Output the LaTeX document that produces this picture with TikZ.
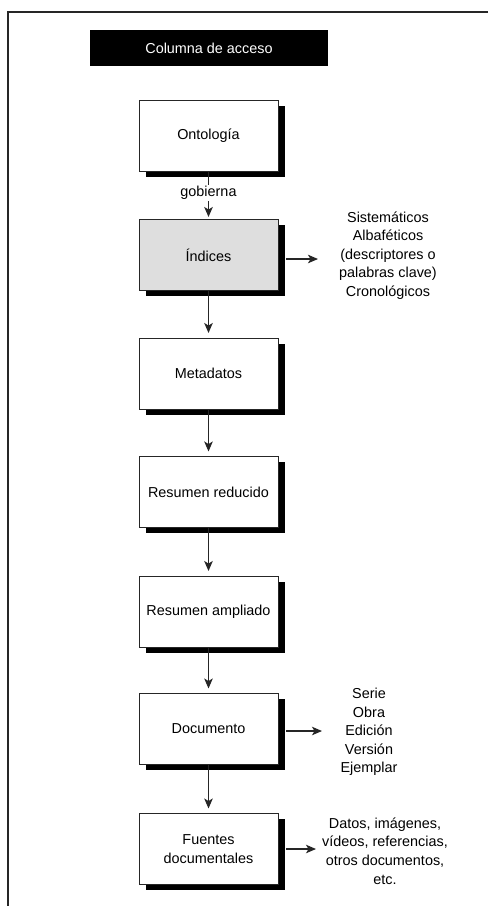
\documentclass[tikz,border=0pt]{standalone}
\usepackage{fontspec}
\setmainfont{Liberation Sans}
\usetikzlibrary{arrows.meta,shadows}

\tikzset{
  every node/.style={font=\fontsize{14.4}{18.6}\selectfont, text=black},
  stepbox/.style={draw=black!85, line width=1pt, fill=white,
    minimum width=139pt, minimum height=71pt, align=center, inner sep=2pt,
    drop shadow={shadow xshift=6.5pt, shadow yshift=-5.5pt, opacity=1, fill=black}},
  arr/.style={draw=black!85, line width=1.3pt,
    -{Stealth[length=10pt,width=8.5pt,inset=2.5pt]}},
  listtext/.style={align=center, inner sep=0pt},
  frameline/.style={draw=black!85, line width=1.4pt}
}

\begin{document}
\begin{tikzpicture}[x=1pt, y=-1pt]
  \useasboundingbox (0,0) rectangle (488,906);

  % open frame: top and left edges only
  \draw[frameline] (488,12) -- (8,12) -- (8,906);

  % heading bar
  \node[fill=black, minimum width=238pt, minimum height=36pt, inner sep=0pt,
        text=white] (head) at (209,48) {Columna de acceso};

  % column of stages
  \node[stepbox] (ont) at (208.5,136)   {Ontología};
  \node[stepbox, fill=black!13] (ind) at (208.5,255) {Índices};
  \node[stepbox] (meta) at (208.5,373.5) {Metadatos};
  \node[stepbox] (rred) at (208.5,492)  {Resumen reducido};
  \node[stepbox] (ramp) at (208.5,611.5) {Resumen ampliado};
  \node[stepbox] (doc) at (208.5,729)   {Documento};
  \node[stepbox] (fue) at (208.5,849)   {Fuentes\\documentales};

  % side lists
  \node[listtext] (lind) at (388,255.5)
    {Sistemáticos\\Albaféticos\\(descriptores o\\palabras clave)\\Cronológicos};
  \node[listtext] (ldoc) at (369,732)
    {Serie\\Obra\\Edición\\Versión\\Ejemplar};
  \node[listtext] (lfue) at (385,851)
    {Datos, imágenes,\\vídeos, referencias,\\otros documentos,\\etc.};

  % vertical flow
  \draw[arr, shorten >=2pt] (ont) -- node[fill=white, inner sep=1.5pt, pos=0.45] {gobierna} (ind);
  \draw[arr, shorten >=4.5pt] (ind) -- (meta);
  \draw[arr, shorten >=4.5pt] (meta) -- (rred);
  \draw[arr, shorten >=4.5pt] (rred) -- (ramp);
  \draw[arr, shorten >=4.5pt] (ramp) -- (doc);
  \draw[arr, shorten >=4.5pt] (doc) -- (fue);

  % arrows to the side lists
  \coordinate (eind) at (318,259);
  \coordinate (edoc) at (322,731);
  \coordinate (efue) at (316,849);
  \draw[arr] ([xshift=7.5pt]ind.east |- eind) -- (eind);
  \draw[arr] ([xshift=7.5pt]doc.east |- edoc) -- (edoc);
  \draw[arr] ([xshift=7.5pt]fue.east |- efue) -- (efue);
\end{tikzpicture}
\end{document}
